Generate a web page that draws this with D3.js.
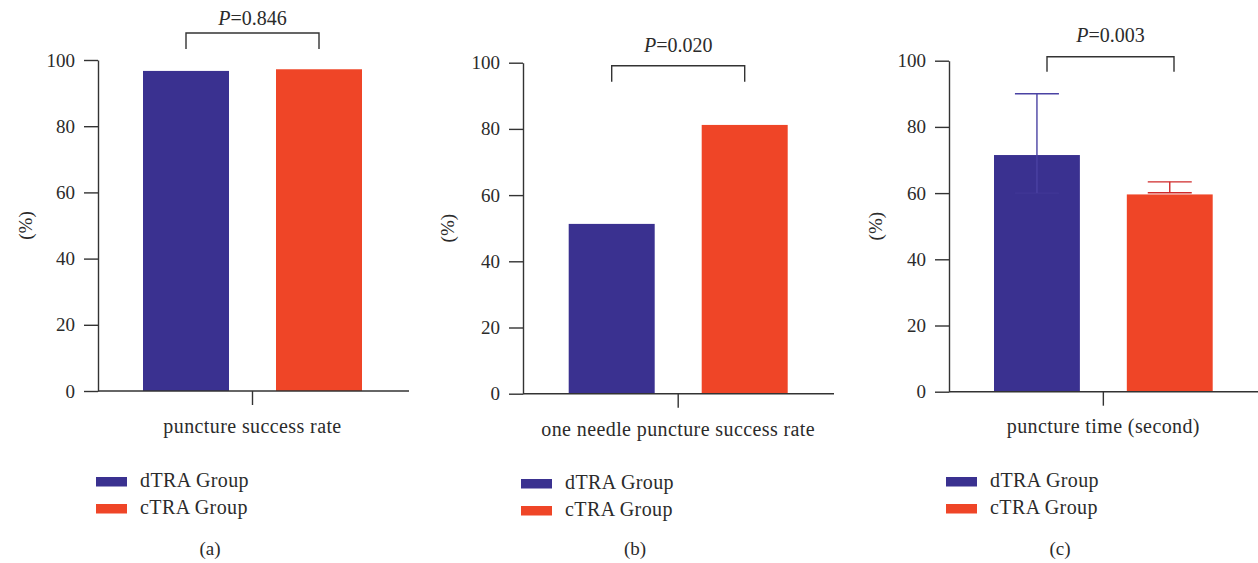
<!DOCTYPE html>
<html>
<head>
<meta charset="utf-8">
<script src="https://cdn.jsdelivr.net/npm/d3@7"></script>
<style>
  body { margin: 0; background: #fff; }
  svg text { font-family: "Liberation Serif", "Times New Roman", serif; fill: #2b2b2b; }
</style>
</head>
<body>
<svg id="chart"></svg>
<script>
var W = 1258, H = 563;

var groups = ['dTRA Group', 'cTRA Group'];
var groupColors = ['#3a3190', '#ef4527'];
var categories = ['puncture success rate', 'one needle puncture success rate', 'puncture time (second)'];
var pValues = ['0.846', '0.020', '0.003'];
var panelLetters = ['(a)', '(b)', '(c)'];
var yTicks = [0, 20, 40, 60, 80, 100];

var valuesA = [96.7, 97.2];
var valuesB = [51.3, 81.2];
var valuesC = [71.5, 59.6];
var errHighC = [90, 63.4];
var errLowC = [60, 60.1];

// panel layout (pixels)
var panels = [
  { values: valuesA, axisX: 98, top: 60, bottom: 391, right: 409, bars: [143, 362],
    brk: [186, 319], brkTop: 33, brkBot: 49, pY: 25, catY: 433, yLabX: 25,
    legX: 96, legY: 477, letterX: 210 },
  { values: valuesB, axisX: 523, top: 62.7, bottom: 393.7, right: 834, bars: [568.7, 787.7],
    brk: [611.7, 744.7], brkTop: 65.7, brkBot: 81.7, pY: 51.7, catY: 436, yLabX: 447,
    legX: 521, legY: 479, letterX: 635 },
  { values: valuesC, axisX: 949, top: 60.7, bottom: 391.7, right: 1258, bars: [994, 1212.7],
    brk: [1047, 1174], brkTop: 56.7, brkBot: 71.7, pY: 41.7, catY: 433, yLabX: 875,
    legX: 946, legY: 477, letterX: 1060,
    errHigh: errHighC, errLow: errLowC }
];

var svg = d3.select('#chart').attr('width', W).attr('height', H);

panels.forEach(function (p, i) {
  var g = svg.append('g');

  var y = d3.scaleLinear().domain([0, 100]).range([p.bottom, p.top]);
  var x = d3.scaleBand().domain(groups).range(p.bars).paddingInner(47 / 133).paddingOuter(0);

  // bars
  g.selectAll('rect.bar')
    .data(p.values)
    .enter()
    .append('rect')
    .attr('class', 'bar')
    .attr('x', function (d, j) { return x(groups[j]); })
    .attr('width', x.bandwidth())
    .attr('y', function (d) { return y(d); })
    .attr('height', function (d) { return p.bottom - y(d); })
    .style('fill', function (d, j) { return groupColors[j]; });

  // error bars (panel c only)
  if (p.errHigh) {
    var errColors = ['#4a42a3', '#cf2a2a'];
    p.values.forEach(function (v, j) {
      var cx = x(groups[j]) + x.bandwidth() / 2;
      var eg = g.append('g').style('stroke', errColors[j]).style('stroke-width', 1.4);
      eg.append('line').attr('x1', cx).attr('x2', cx).attr('y1', y(p.errLow[j])).attr('y2', y(p.errHigh[j]));
      eg.append('line').attr('x1', cx - 22).attr('x2', cx + 22).attr('y1', y(p.errHigh[j])).attr('y2', y(p.errHigh[j]));
      eg.append('line').attr('x1', cx - 22).attr('x2', cx + 22).attr('y1', y(p.errLow[j])).attr('y2', y(p.errLow[j]))
        .style('stroke-opacity', j === 0 ? 0.35 : 1);
    });
  }

  // y axis
  var yAxis = d3.axisLeft(y).tickValues(yTicks).tickSize(14).tickPadding(9).tickSizeOuter(0);
  var ya = g.append('g').attr('transform', 'translate(' + p.axisX + ',0)').call(yAxis);
  ya.select('.domain').style('stroke', '#333').style('stroke-width', 1.4);
  ya.selectAll('.tick line').style('stroke', '#333').style('stroke-width', 1.4);
  ya.selectAll('.tick text').style('font-size', '19px').style('font-family', '"Liberation Serif", serif').style('fill', '#2b2b2b');

  // x axis line and category tick
  var catX = (p.bars[0] + p.bars[1]) / 2;
  g.append('line').attr('x1', p.axisX).attr('x2', p.right).attr('y1', p.bottom).attr('y2', p.bottom)
    .style('stroke', '#333').style('stroke-width', 1.4);
  g.append('line').attr('x1', catX).attr('x2', catX).attr('y1', p.bottom).attr('y2', p.bottom + 14)
    .style('stroke', '#333').style('stroke-width', 1.4);

  g.append('text')
    .attr('x', catX).attr('y', p.catY)
    .attr('text-anchor', 'middle')
    .style('font-size', '20px')
    .style('letter-spacing', '0.4px')
    .text(categories[i]);

  // y label
  g.append('text')
    .attr('transform', 'translate(' + p.yLabX + ',' + (p.top + p.bottom) / 2 + ') rotate(-90)')
    .attr('text-anchor', 'middle')
    .attr('dy', '0.35em')
    .style('font-size', '19px')
    .text('(%)');

  // significance bracket
  g.append('path')
    .attr('d', 'M' + p.brk[0] + ',' + p.brkBot + 'V' + p.brkTop + 'H' + p.brk[1] + 'V' + p.brkBot)
    .style('fill', 'none').style('stroke', '#333').style('stroke-width', 1.4);

  var pt = g.append('text')
    .attr('x', (p.brk[0] + p.brk[1]) / 2).attr('y', p.pY)
    .attr('text-anchor', 'middle')
    .style('font-size', '20px');
  pt.append('tspan').style('font-style', 'italic').text('P');
  pt.append('tspan').text('=' + pValues[i]);

  // legend
  groups.forEach(function (name, j) {
    g.append('rect')
      .attr('x', p.legX).attr('y', p.legY + j * 27)
      .attr('width', 31).attr('height', 9.5)
      .style('fill', groupColors[j]);
    g.append('text')
      .attr('x', p.legX + 44).attr('y', p.legY + j * 27 + 10)
      .style('font-size', '20px')
      .style('letter-spacing', '0.4px')
      .text(name);
  });

  g.append('text')
    .attr('x', p.letterX).attr('y', 555)
    .attr('text-anchor', 'middle')
    .style('font-size', '19px')
    .text(panelLetters[i]);
});
</script>
</body>
</html>
